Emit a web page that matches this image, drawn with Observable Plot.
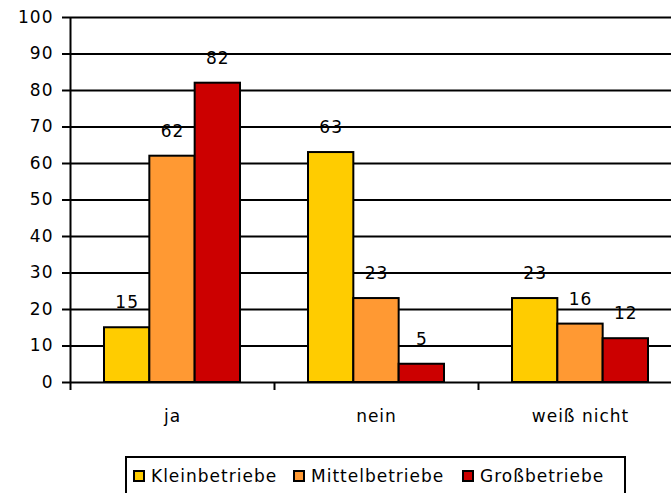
<!DOCTYPE html>
<html>
<head>
<meta charset="utf-8">
<script src="https://cdn.jsdelivr.net/npm/d3@7"></script>
<script src="https://cdn.jsdelivr.net/npm/@observablehq/plot@0.6"></script>
<style>
  html, body { margin: 0; padding: 0; overflow: hidden; background: #fff; }
  #wrap { position: relative; width: 671px; height: 493px; overflow: hidden; }
  #chart svg { max-width: none !important; }
  #chart svg text { letter-spacing: 1px; }
  #legend { position: absolute; left: 125px; top: 456px; width: 501px; height: 50px;
            border: 2px solid #000; box-sizing: border-box; background: #fff;
            font-family: "DejaVu Sans", sans-serif; font-size: 17px; letter-spacing: 1px; color: #000; }
  .item { position: absolute; top: 8px; display: flex; align-items: center; }
  .sw { width: 12px; height: 12px; border: 2px solid #000; box-sizing: border-box; margin-right: 6px; }
</style>
</head>
<body>
<div id="wrap">
  <div id="chart"></div>
  <div id="legend"></div>
</div>
<script>
const categories = ["ja", "nein", "weiß nicht"];
const series = ["Kleinbetriebe", "Mittelbetriebe", "Großbetriebe"];
const kleinbetriebe = [15, 63, 23];
const mittelbetriebe = [62, 23, 16];
const grossbetriebe = [82, 5, 12];
const yTicks = [0, 10, 20, 30, 40, 50, 60, 70, 80, 90, 100];
const colors = ["#FFCC00", "#FF9933", "#CC0000"];

const values = [kleinbetriebe, mittelbetriebe, grossbetriebe];
const data = [];
series.forEach((s, i) => categories.forEach((c, j) => data.push({cat: c, series: s, si: i, value: values[i][j]})));

const W = 682, H = 445, mL = 70, mT = 17, mB = 63;
const band = (W - mL) / categories.length;
const pad = band / 6;
const bw = (band - 2 * pad) / series.length;

const marks = [
  Plot.ruleY(yTicks, {y: d => d, strokeWidth: 2, stroke: "#000"})
];
series.forEach((s, i) => {
  const sub = data.filter(d => d.si === i);
  marks.push(Plot.barY(sub, {x: "cat", y: "value", fill: "series", stroke: "#000", strokeWidth: 2,
    insetLeft: pad + i * bw, insetRight: pad + (series.length - 1 - i) * bw}));
});
series.forEach((s, i) => {
  const sub = data.filter(d => d.si === i);
  marks.push(Plot.text(sub, {x: "cat", y: "value", text: d => String(d.value),
    dx: (i - 1) * bw, dy: -25, fontSize: 17, fill: "#000"}));
});
marks.push(Plot.ruleX([categories[0]], {x: d => d, dx: -band / 2, strokeWidth: 2, stroke: "#000"}));
marks.push(Plot.axisY({ticks: yTicks, tickSize: 8, tickPadding: 9, strokeWidth: 2, fontSize: 17, tickFormat: d => String(d)}));
marks.push(Plot.axisX({tickSize: 8, dx: -band / 2, strokeWidth: 2, tickFormat: () => ""}));
marks.push(Plot.axisX({tickSize: 0, tickPadding: 27, fontSize: 17}));

const chart = Plot.plot({
  width: W, height: H,
  marginLeft: mL, marginRight: 0, marginTop: mT, marginBottom: mB,
  style: {fontFamily: "DejaVu Sans, sans-serif", fontSize: "17px", background: "#fff", color: "#000", overflow: "visible", maxWidth: "none"},
  x: {domain: categories, padding: 0, label: null},
  y: {domain: [0, 100], label: null},
  color: {domain: series, range: colors},
  marks
});
document.getElementById("chart").appendChild(chart);

const legend = document.getElementById("legend");
const itemLeft = [6, 166, 335];
series.forEach((s, i) => {
  const it = document.createElement("div");
  it.className = "item";
  it.style.left = itemLeft[i] + "px";
  const sw = document.createElement("div");
  sw.className = "sw";
  sw.style.background = chart.scale("color").apply(s);
  const t = document.createElement("span");
  t.textContent = s;
  it.appendChild(sw); it.appendChild(t);
  legend.appendChild(it);
});
</script>
</body>
</html>
